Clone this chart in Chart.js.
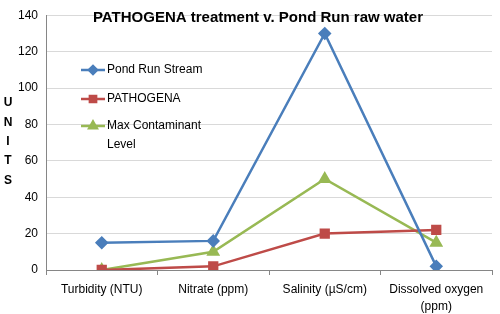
<!DOCTYPE html>
<html>
<head>
<meta charset="utf-8">
<script src="https://cdn.jsdelivr.net/npm/chart.js@4.4.1/dist/chart.umd.min.js"></script>
<style>
  html, body { margin: 0; padding: 0; background: #fff; }
  #wrap { width: 500px; height: 314px; position: relative; }
</style>
</head>
<body>
<div id="wrap"><canvas id="chart"></canvas></div>
<script>
// Chart data
const categories = ['Turbidity (NTU)', 'Nitrate (ppm)', 'Salinity (µS/cm)', ['Dissolved oxygen', '(ppm)']];
const pondRun = [15, 16, 130, 2];
const pathogena = [0, 2, 20, 22];
const maxContaminant = [0, 10, 50, 15];
const yTicks = [0, 20, 40, 60, 80, 100, 120, 140];

const titleText = 'PATHOGENA treatment v. Pond Run raw water';
const axisLetters = ['U', 'N', 'I', 'T', 'S'];
const FONT = '"Liberation Sans", Arial, sans-serif';

// title, in-plot legend and the stacked UNITS label
const overlay = {
  id: 'overlay',
  afterDraw(chart) {
    const ctx = chart.ctx;
    ctx.save();
    ctx.fillStyle = '#000';
    ctx.font = 'bold 15px ' + FONT;
    ctx.textAlign = 'center';
    ctx.textBaseline = 'middle';
    ctx.fillText(titleText, 258, 18);

    ctx.font = 'bold 12px ' + FONT;
    axisLetters.forEach((ch, i) => ctx.fillText(ch, 8, 103 + i * 19.3));

    // legend
    const rows = [
      { ds: 0, y: 70, lines: ['Pond Run Stream'] },
      { ds: 1, y: 99, lines: ['PATHOGENA'] },
      { ds: 2, y: 126, lines: ['Max Contaminant', 'Level'] }
    ];
    ctx.font = '12px ' + FONT;
    ctx.textAlign = 'left';
    rows.forEach(r => {
      const d = chart.data.datasets[r.ds];
      ctx.strokeStyle = d.borderColor;
      ctx.lineWidth = 2.5;
      ctx.beginPath();
      ctx.moveTo(81, r.y);
      ctx.lineTo(105, r.y);
      ctx.stroke();
      Chart.helpers.drawPoint(ctx, {
        pointStyle: d.pointStyle, radius: d.pointRadius * 0.8, borderWidth: 1
      }, 93, r.y);
      ctx.fillStyle = d.borderColor;
      ctx.fill();
      ctx.fillStyle = '#000';
      r.lines.forEach((t, i) => ctx.fillText(t, 107, r.y + i * 19));
    });
    ctx.restore();
  }
};

new Chart(document.getElementById('chart'), {
  type: 'line',
  data: {
    labels: categories,
    datasets: [
      {
        label: 'Pond Run Stream',
        data: pondRun,
        borderColor: '#4a7ebb',
        backgroundColor: '#4a7ebb',
        borderWidth: 2.5,
        pointStyle: 'rectRot',
        pointRadius: 5,
        tension: 0
      },
      {
        label: 'PATHOGENA',
        data: pathogena,
        borderColor: '#be4b48',
        backgroundColor: '#be4b48',
        borderWidth: 2.5,
        pointStyle: 'rect',
        pointRadius: 5.5,
        tension: 0
      },
      {
        label: 'Max Contaminant Level',
        data: maxContaminant,
        borderColor: '#98b954',
        backgroundColor: '#98b954',
        borderWidth: 2.5,
        pointStyle: 'triangle',
        pointRadius: 5.5,
        tension: 0
      }
    ]
  },
  options: {
    responsive: true,
    maintainAspectRatio: false,
    animation: false,
    layout: { padding: { top: 7, right: 6, left: 0, bottom: 0 } },
    plugins: {
      legend: { display: false },
      title: { display: false },
      tooltip: { enabled: false }
    },
    scales: {
      x: {
        offset: true,
        grid: { drawOnChartArea: false, drawTicks: true, tickLength: 5, offset: true, color: '#868686' },
        border: { color: '#868686' },
        ticks: { color: '#000', font: { family: FONT, size: 12, lineHeight: 1.45 }, padding: 6, maxRotation: 0 },
        afterFit: s => { s.height = 44; }
      },
      y: {
        min: 0,
        max: 140,
        afterBuildTicks: s => { s.ticks = yTicks.map(v => ({ value: v })); },
        grid: { color: '#d9d9d9', drawTicks: false },
        border: { color: '#868686' },
        ticks: { color: '#000', font: { family: FONT, size: 12 }, padding: 8 },
        afterFit: s => { s.width = 46; }
      }
    }
  },
  plugins: [overlay]
});
</script>
</body>
</html>
